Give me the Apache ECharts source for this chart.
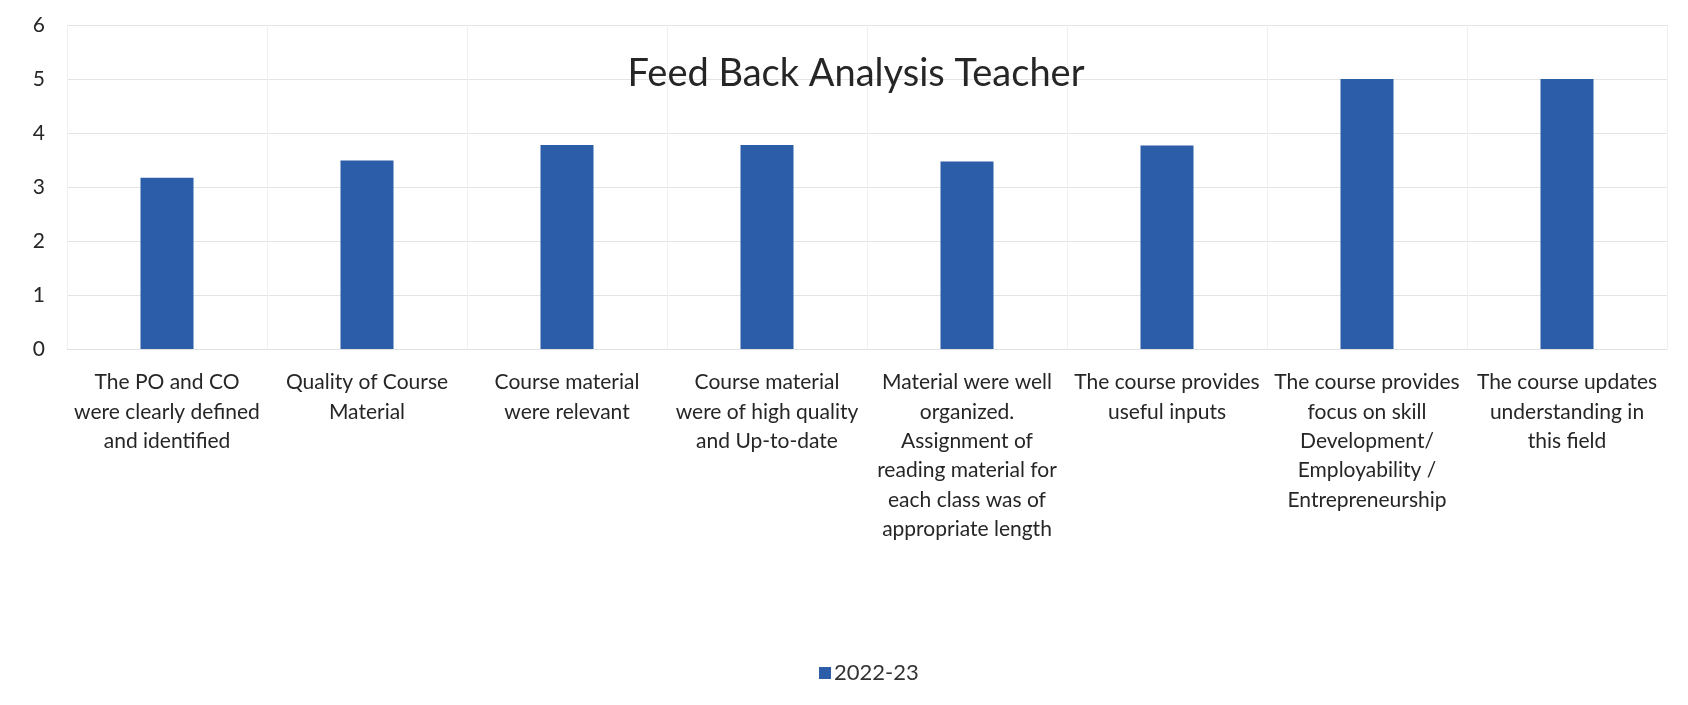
<!DOCTYPE html>
<html>
<head>
<meta charset="utf-8">
<script src="https://cdn.jsdelivr.net/npm/echarts@6/dist/echarts.min.js"></script>
<style>
html,body{margin:0;padding:0;background:#fff;}
#chart{width:1688px;height:705px;}
</style>
</head>
<body>
<div id="chart"></div>
<script>
const chartTitle = 'Feed Back Analysis Teacher';
const seriesName = '2022-23';
const categories = [
  'The PO and CO\nwere clearly defined\nand identified',
  'Quality of Course\nMaterial',
  'Course material\nwere relevant',
  'Course material\nwere of high quality\nand Up-to-date',
  'Material were well\norganized.\nAssignment of\nreading material for\neach class was of\nappropriate length',
  'The course provides\nuseful inputs',
  'The course provides\nfocus on skill\nDevelopment/\nEmployability /\nEntrepreneurship',
  'The course updates\nunderstanding in\nthis field'
];
const values = [3.17, 3.49, 3.78, 3.78, 3.47, 3.77, 5, 5];
const yTicks = [0, 1, 2, 3, 4, 5, 6];

const chart = echarts.init(document.getElementById('chart'));
chart.setOption({
  backgroundColor: '#ffffff',
  textStyle: { fontFamily: 'Lato' },
  title: {
    text: chartTitle,
    left: 851, top: 50,
    textAlign: 'center',
    textStyle: { fontFamily: 'Lato', fontSize: 38, fontWeight: 'normal', color: '#262626' }
  },
  legend: {
    data: [seriesName],
    bottom: 16, left: 814,
    itemWidth: 12, itemHeight: 12, icon: 'rect', itemGap: 6,
    textStyle: { fontFamily: 'Lato', fontSize: 22, color: '#333', padding: [0, 0, 0, -2] }
  },
  grid: { left: 67, right: 21, top: 25, bottom: 356, containLabel: false },
  xAxis: {
    type: 'category',
    data: categories,
    axisTick: { show: false },
    axisLine: { lineStyle: { color: '#e2e2e2' } },
    splitLine: { show: true, lineStyle: { color: '#f0f0f0' } },
    axisLabel: {
      interval: 0, margin: 19, fontFamily: 'Lato', fontSize: 21,
      lineHeight: 29.3, color: '#262626', align: 'center'
    }
  },
  yAxis: {
    type: 'value',
    min: yTicks[0], max: yTicks[yTicks.length - 1], interval: 1,
    axisLine: { show: false }, axisTick: { show: false },
    splitLine: { lineStyle: { color: '#e4e4e4' } },
    axisLabel: { fontFamily: 'Lato', fontSize: 21, color: '#262626', margin: 22 }
  },
  series: [{
    name: seriesName,
    type: 'bar',
    data: values,
    barWidth: 53,
    itemStyle: { color: '#2c5da8' }
  }]
});
</script>
</body>
</html>
